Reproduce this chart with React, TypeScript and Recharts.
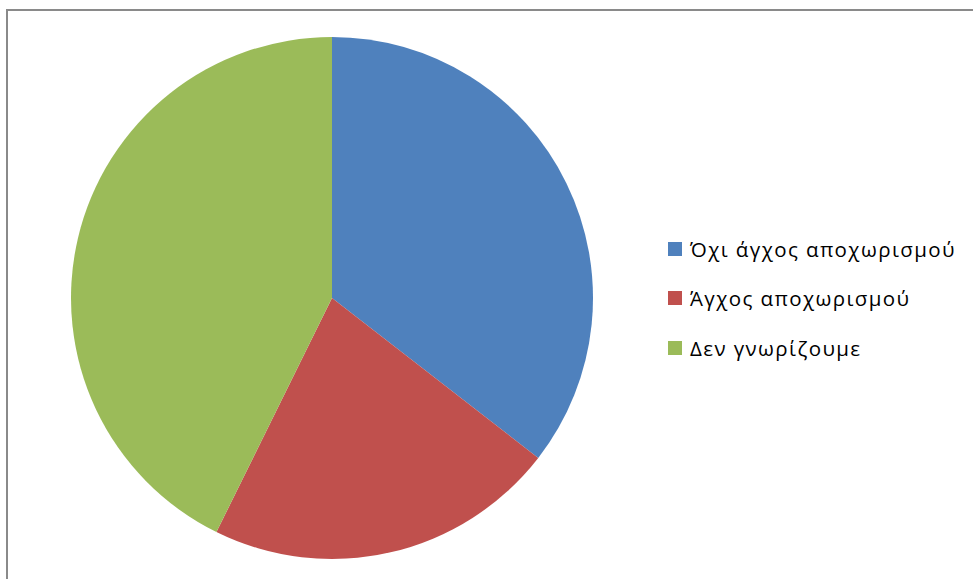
import React from "react";
import { PieChart, Pie, Cell, Legend } from "recharts";

const categories = ["Όχι άγχος αποχωρισμού", "Άγχος αποχωρισμού", "Δεν γνωρίζουμε"];
const values = [35.5, 21.8, 42.7];
const colors = ["#4F81BD", "#C0504D", "#9BBB59"];

const data = categories.map((name, i) => ({ name, value: values[i] }));

const LegendContent = () => (
  <div style={{ fontFamily: "'Open Sans', 'Noto Sans', sans-serif", fontSize: 20.5, letterSpacing: 1.4, color: "#000" }}>
    {categories.map((c, i) => (
      <div key={c} style={{ height: 49.5, display: "flex", alignItems: "center" }}>
        <span style={{ display: "inline-block", width: 14, height: 14, background: colors[i], marginRight: 8 }} />
        <span style={{ whiteSpace: "nowrap" }}>{c}</span>
      </div>
    ))}
  </div>
);

export default function App() {
  return (
    <div
      style={{
        position: "absolute",
        left: 6,
        top: 9,
        width: 980,
        height: 580,
        borderLeft: "2px solid #8a8a8a",
        borderTop: "2px solid #8a8a8a",
        background: "#fff",
      }}
    >
      <PieChart width={965} height={568}>
        <Pie
          data={data}
          dataKey="value"
          nameKey="name"
          cx={319}
          cy={282}
          outerRadius={261}
          startAngle={90}
          endAngle={-270}
          stroke="none"
          isAnimationActive={false}
        >
          {data.map((d, i) => (
            <Cell key={d.name} fill={colors[i]} />
          ))}
        </Pie>
        <Legend
          content={<LegendContent />}
          wrapperStyle={{ position: "absolute", left: 660, top: 213, width: 310 }}
        />
      </PieChart>
    </div>
  );
}
